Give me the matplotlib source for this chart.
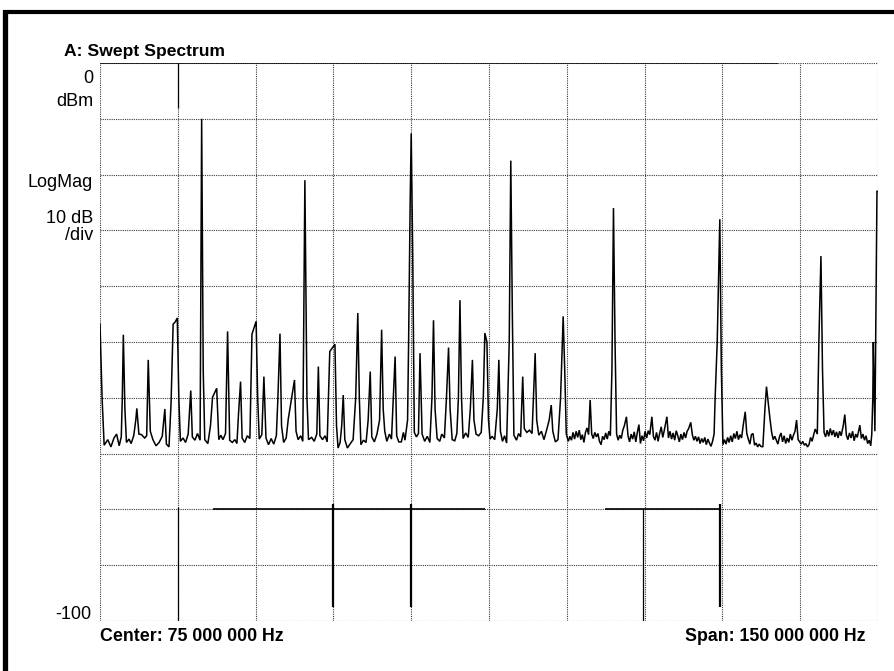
import matplotlib
matplotlib.use("Agg")
import matplotlib.pyplot as plt
from matplotlib.lines import Line2D

# ---------------- data ----------------
title = "A: Swept Spectrum"
center_label = "Center: 75 000 000 Hz"
span_label = "Span: 150 000 000 Hz"
y_top_labels = ["0", "dBm"]
y_mid_labels = ["LogMag", "10 dB", "/div"]
y_bottom_label = "-100"

freq_start_mhz = 0.0
freq_stop_mhz = 150.0
ref_level_dbm = 0.0
bottom_level_dbm = -100.0
db_per_div = 10.0
freq_per_div_mhz = 15.0

# trace vertices (MHz, dBm)
trace_a = [(0.0,-46.8),(0.4,-60),(0.8,-68.5),(1.5,-67.5),(2.1,-68.8),(2.7,-67.2),(3.2,-66.5),(3.7,-68.6),
           (4.1,-67.0),(4.3,-60),(4.5,-48.7),(4.8,-62),(5.1,-68),(5.6,-67.4),(6.0,-68.2),(6.5,-66.8),
           (6.9,-64),(7.1,-61.9),(7.5,-66.5),(8.0,-66.6),(8.6,-67.2),(9.0,-66.8),(9.3,-53.2),(9.7,-66),
           (10.2,-67.5),(10.8,-68.6),(11.4,-68),(12.0,-66.9),(12.5,-62),(12.8,-68.3),(13.3,-68.8),(13.7,-61),
           (14.1,-46.8),(14.5,-46.4),(14.9,-45.7),(15.2,-60),(15.5,-67.8),(16.0,-67.2),(16.5,-68),(17.0,-66.5),
           (17.5,-58.7),(17.8,-67),(18.3,-67.6),(18.8,-66.4),(19.3,-67.6),(19.6,-10),(19.9,-55),(20.2,-67.5),
           (20.8,-68.2),(21.3,-65),(21.7,-59.9),(22.5,-58.3),(22.9,-67.5),(23.3,-66.7),(23.7,-67.5),(24.2,-66.4),
           (24.6,-48.1),(25.0,-67.6),(25.5,-68),(26.0,-67.5),(26.4,-68.2),(26.7,-63),(27.1,-57.1),(27.4,-67.2),
           (27.9,-68.0),(28.4,-66.8),(28.9,-67.3),(29.3,-48.6)]
trace_b = [(30.1,-46.3),(30.4,-60),(30.7,-67.4),(31.2,-66.6),(31.6,-56.2),(32.0,-67.2),(32.5,-68.4),(33.0,-67.3),
           (33.5,-68.3),(34.0,-66.8),(34.3,-60),(34.7,-48.5),(35.0,-65),(35.4,-68),(35.9,-67.2),(36.3,-63.8),
           (37.5,-56.8),(37.8,-66),(38.2,-67.5),(38.7,-66.8),(39.1,-67.8),(39.5,-21),(39.9,-60),(40.2,-67.5),
           (40.8,-67.1),(41.3,-67.8),(41.8,-66.5),(42.1,-54.4),(42.4,-66.8),(42.9,-67.5),(43.4,-66.8),(43.8,-67.9),
           (44.3,-51.7),(45.3,-50.4),(45.6,-65),(45.9,-69),(46.3,-68),(46.6,-65),(46.9,-59.5),(47.2,-67.5),
           (47.7,-69),(48.2,-68.3),(48.8,-67.5),(49.3,-60),(49.7,-44.8),(50.0,-60),(50.3,-68.4),(50.8,-67.6),
           (51.3,-68),(51.7,-64),(52.1,-55.3),(52.4,-67),(52.9,-67.9),(53.4,-66.5),(53.9,-64),(54.3,-47.8),
           (54.6,-62),(54.9,-66),(55.3,-67.8),(55.8,-66.5),(56.2,-67.4),(56.9,-52.6),(57.2,-66.8),(57.6,-67.9),
           (58.1,-67.9),(58.5,-66.2),(58.8,-67.6),(59.3,-64),(59.5,-50),(59.8,-25)]
trace_c = [(60.0,-12.6),(60.3,-35),(60.6,-66.2),(61.0,-67.0),(61.4,-66.4),(61.7,-52),(62.1,-66.5),(62.6,-67.8),
           (63.1,-66.9),(63.6,-68),(64.0,-60),(64.3,-46.1),(64.6,-62),(65.0,-67.3),(65.5,-67.8),(65.9,-66.5),
           (66.4,-67.2),(66.8,-60),(67.2,-51),(67.5,-62),(67.9,-67.5),(68.4,-67.7),(68.8,-66.4),(69.1,-60),
           (69.4,-42.5),(69.7,-60),(70.0,-67.3),(70.5,-66.3),(71.0,-67.1),(71.4,-62),(71.8,-53.2),(72.1,-64),
           (72.5,-66.5),(73.0,-66.8),(73.5,-66.2),(73.9,-60),(74.2,-48.4),(74.6,-50),(74.9,-64),(75.2,-67.4),
           (75.6,-66.9),(76.1,-67.5),(76.6,-62),(76.9,-53.2),(77.2,-66),(77.6,-67.8),(78.0,-66.8),(78.4,-68.1),
           (78.9,-50),(79.2,-17.5),(79.5,-45),(79.8,-66.7),(80.3,-67.6),(80.7,-66.4),(81.1,-67.0),(81.5,-56.2),
           (81.8,-65.5),(82.3,-66.2),(82.8,-65.8),(83.3,-66.4),(83.9,-52),(84.2,-64),(84.6,-66.7),(85.1,-66),
           (85.6,-67.5),(86.1,-65.8),(86.6,-64),(87.0,-61.3),(87.3,-66),(87.8,-67.9),(88.3,-67.5),(88.8,-60),
           (89.3,-45.4),(89.6,-55),(89.9,-66.5)]
trace_d = [(90.3,-67.8),(90.6,-66.9),(90.9,-67.6),(91.2,-66.2),(91.5,-67.4),(91.8,-66.0),(92.1,-67.1),(92.4,-65.8),
           (92.7,-67.5),(93.0,-66.6),(93.3,-68.0),(93.6,-66.2),(93.9,-65.4),(94.2,-66.6),(94.5,-60.4),(94.8,-66.5),
           (95.1,-67.3),(95.4,-66.2),(95.7,-67.0),(96.0,-66.4),(96.3,-67.8),(96.6,-68.4),(96.9,-66.9),(97.2,-67.5),
           (97.5,-66.3),(97.8,-67.4),(98.1,-66.0),(98.4,-66.8),(98.7,-55),(99.0,-26),(99.3,-50),(99.6,-66.5),
           (99.9,-67.6),(100.2,-66.7),(100.5,-67.3),(100.8,-65.8),(101.1,-65.0),(101.5,-63.4),(101.8,-66.8),(102.1,-67.9),
           (102.4,-66.5),(102.7,-67.4),(103.0,-66.1),(103.3,-67.9),(103.6,-66.2),(103.9,-64.8),(104.2,-68.2),(104.5,-66.8),
           (104.8,-67.7),(105.1,-66.0),(105.4,-67.2),(105.7,-65.9),(106.0,-66.6),(106.4,-63.4),(106.7,-66.9),(107.0,-67.6),
           (107.3,-66.2),(107.6,-67.8),(107.9,-66.4),(108.2,-65.2),(108.5,-67.1),(108.8,-65.8),(109.3,-63.4),(109.6,-67.2),
           (109.9,-66.0),(110.2,-67.4),(110.5,-66.3),(110.8,-67.6),(111.1,-65.9),(111.4,-66.8),(111.7,-67.9),(112.0,-66.5),
           (112.3,-67.5),(112.6,-66.2),(112.9,-67.2),(113.2,-66.0),(113.5,-65.5),(113.9,-64.4),(114.2,-66.6),(114.5,-67.6),
           (114.8,-66.9),(115.1,-67.8),(115.4,-67.0),(115.7,-68.2),(116.0,-67.3),(116.3,-68.0),(116.6,-67.1),(116.9,-68.4),
           (117.2,-67.4),(117.5,-68.1),(117.8,-68.7),(118.1,-67.8),(118.4,-66.5),(118.6,-60),(119.0,-50),(119.5,-28),
           (119.8,-55)]
trace_e = [(120.1,-68.4),(120.4,-67.5),(120.7,-68.3),(121.0,-67.1),(121.3,-68.0),(121.6,-66.8),(121.9,-67.9),(122.2,-66.4),
           (122.5,-67.3),(122.8,-66.0),(123.1,-67.5),(123.4,-66.6),(123.7,-67.2),(124.0,-65.0),(124.4,-62.5),(124.7,-66.4),
           (125.0,-67.4),(125.3,-68.3),(125.6,-66.6),(125.9,-66.4),(126.2,-68.5),(126.5,-68.1),(126.8,-68.8),(127.1,-68.3),
           (127.4,-68.7),(127.8,-68.8),(128.2,-62),(128.5,-58),(128.9,-61.5),(129.2,-64),(129.5,-66.2),(129.8,-67.5),
           (130.1,-66.9),(130.4,-67.6),(130.7,-68.3),(131.0,-67.0),(131.3,-66.3),(131.6,-67.9),(131.9,-66.8),(132.2,-68.2),
           (132.5,-67.2),(132.8,-68.0),(133.1,-66.5),(133.4,-67.6),(133.7,-66.7),(134.0,-66),(134.3,-64),(134.6,-67.5),
           (134.9,-67.9),(135.2,-68.3),(135.5,-67.8),(135.8,-68.5),(136.1,-68.2),(136.4,-68.8),(136.7,-68.4),(137.0,-67.1),
           (137.3,-67.8),(137.6,-66.6),(137.9,-65.6),(138.3,-66.5),(138.6,-50),(139.0,-34.6),(139.3,-55),(139.6,-66.2),
           (139.9,-67.0),(140.2,-65.8),(140.5,-66.9),(140.8,-65.5),(141.1,-66.7),(141.4,-65.8),(141.7,-67.0),(142.0,-66.1),
           (142.3,-67.2),(142.6,-66.0),(142.9,-66.8),(143.3,-65.0),(143.6,-63),(143.9,-66.7),(144.2,-67.5),(144.5,-66.3),
           (144.8,-67.2),(145.1,-66.0),(145.4,-67.7),(145.7,-66.5),(146.0,-67.1),(146.5,-64.9),(146.8,-67.3),(147.1,-66.5),
           (147.4,-67.6),(147.7,-66.8),(148.0,-68.2),(148.3,-67.6),(148.6,-68.6),(148.8,-66.5),(149.0,-60),(149.1,-50),
           (149.4,-66),(149.8,-23),(150.0,-23)]

# print-through artefacts visible on the scanned screen (MHz, dBm from, dBm to)
artefact_vlines_thick = [(45.0, -79.0, -97.5), (60.0, -79.0, -97.5), (119.6, -79.0, -97.5)]
artefact_vlines_thin = [(15.0, 0.0, -8.0), (15.0, -79.5, -100.0), (104.6, -80.0, -100.0)]
artefact_hlines = [(-80.0, 21.8, 74.2), (-80.0, 97.4, 119.6)]
top_border_solid_mhz = (0.0, 130.7)

# ---------------- figure ----------------
W, H = 895, 671
fig = plt.figure(figsize=(W / 100, H / 100), dpi=100)
fig.patch.set_facecolor("white")

def fx(px):
    return px / W

def fy(py):
    return 1 - py / H

ax_left, ax_right, ax_top, ax_bottom = 100, 878, 63, 621
ax = fig.add_axes([fx(ax_left), fy(ax_bottom), fx(ax_right - ax_left), (ax_bottom - ax_top) / H])
ax.set_xlim(freq_start_mhz, freq_stop_mhz)
ax.set_ylim(bottom_level_dbm, ref_level_dbm)
ax.set_xticks([])
ax.set_yticks([])
for s in ax.spines.values():
    s.set_visible(False)

grid_kw = dict(color="#3a3a3a", lw=0.8, ls=(0, (1, 1)), zorder=1)
nx = int(round((freq_stop_mhz - freq_start_mhz) / freq_per_div_mhz))
ny = int(round((ref_level_dbm - bottom_level_dbm) / db_per_div))
for i in range(nx + 1):
    ax.axvline(freq_start_mhz + i * freq_per_div_mhz, **grid_kw)
for j in range(ny + 1):
    ax.axhline(bottom_level_dbm + j * db_per_div, **grid_kw)
# solid top border over most of the width
ax.plot(list(top_border_solid_mhz), [ref_level_dbm, ref_level_dbm], color="black", lw=1.1, zorder=2,
        solid_capstyle="butt")

# artefacts
for f, y0, y1 in artefact_vlines_thick:
    ax.plot([f, f], [y0, y1], color="black", lw=1.6, zorder=2, solid_capstyle="butt")
for f, y0, y1 in artefact_vlines_thin:
    ax.plot([f, f], [y0, y1], color="black", lw=0.9, zorder=2, solid_capstyle="butt")
for y, f0, f1 in artefact_hlines:
    ax.plot([f0, f1], [y, y], color="black", lw=1.2, zorder=2, solid_capstyle="butt")

# trace
pts = trace_a + trace_b + trace_c + trace_d + trace_e
trace_mhz = [p[0] for p in pts]
trace_dbm = [p[1] for p in pts]
ax.plot(trace_mhz, trace_dbm, color="black", lw=1.1, zorder=3, solid_joinstyle="miter")

# ---------------- text ----------------
fam = ["Liberation Sans", "DejaVu Sans"]
fig.text(fx(64), fy(56), title, fontsize=12.6, fontweight="bold", family=fam, va="baseline", ha="left")
fig.text(fx(93), fy(83), y_top_labels[0], fontsize=13, family=fam, va="baseline", ha="right")
fig.text(fx(93), fy(106), y_top_labels[1], fontsize=13, family=fam, va="baseline", ha="right")
fig.text(fx(93), fy(187), y_mid_labels[0], fontsize=13, family=fam, va="baseline", ha="right")
fig.text(fx(93), fy(223), y_mid_labels[1], fontsize=13, family=fam, va="baseline", ha="right")
fig.text(fx(93), fy(240), y_mid_labels[2], fontsize=13, family=fam, va="baseline", ha="right")
fig.text(fx(91), fy(619), y_bottom_label, fontsize=13, family=fam, va="baseline", ha="right")
fig.text(fx(100), fy(641), center_label, fontsize=12.8, fontweight="bold", family=fam, va="baseline", ha="left")
fig.text(fx(866), fy(641), span_label, fontsize=12.8, fontweight="bold", family=fam, va="baseline", ha="right")

# scanned page frame (thick black edges top and left)
fig.add_artist(Line2D([fx(3), 1.0], [fy(11.5), fy(11.5)], color="black", lw=3.0, solid_capstyle="butt"))
fig.add_artist(Line2D([fx(5.5), fx(5.5)], [fy(10), 0.0], color="black", lw=3.8, solid_capstyle="butt"))

fig.savefig("out.png", dpi=100, facecolor="white")
